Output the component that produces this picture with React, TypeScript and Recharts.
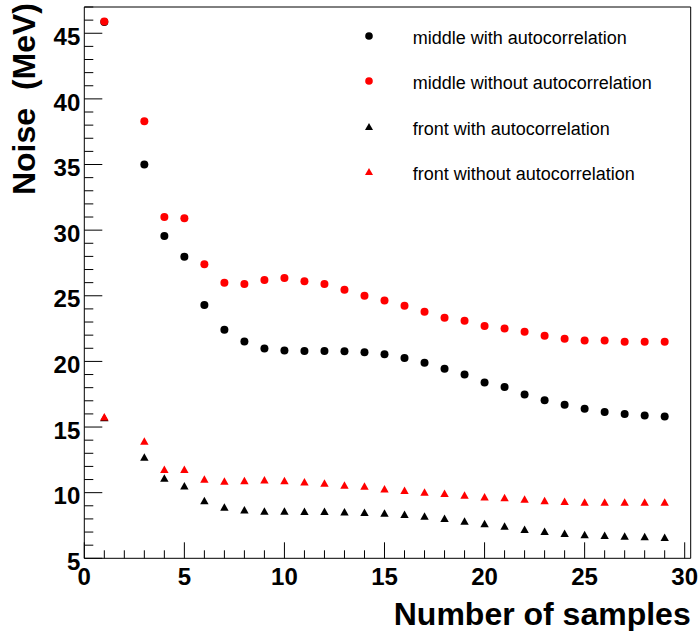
import React from 'react';
import { Legend, ReferenceArea, Scatter, ScatterChart, XAxis, YAxis } from 'recharts';

const FONT = '"Liberation Sans", Arial, Helvetica, sans-serif';

// number of samples (there is no point at 2)
const samples = [1, 3, 4, 5, 6, 7, 8, 9, 10, 11, 12, 13, 14, 15, 16, 17, 18, 19, 20, 21, 22, 23, 24, 25, 26, 27, 28, 29];

// noise in MeV
const middleWith = [45.85, 35.0, 29.56, 27.97, 24.3, 22.41, 21.52, 20.99, 20.84, 20.8, 20.8, 20.77, 20.69, 20.54, 20.26, 19.9, 19.45, 19.0, 18.4, 18.05, 17.47, 17.04, 16.69, 16.4, 16.15, 16.0, 15.87, 15.8];
const middleWithout = [45.9, 38.3, 31.0, 30.9, 27.4, 26.0, 25.9, 26.2, 26.35, 26.1, 25.9, 25.45, 25.0, 24.64, 24.24, 23.78, 23.33, 23.1, 22.7, 22.5, 22.26, 21.96, 21.73, 21.6, 21.6, 21.5, 21.5, 21.5];
const frontWith = [15.7, 12.68, 11.08, 10.5, 9.36, 8.88, 8.67, 8.57, 8.57, 8.55, 8.55, 8.52, 8.47, 8.42, 8.32, 8.19, 8.02, 7.81, 7.61, 7.43, 7.18, 7.03, 6.88, 6.77, 6.72, 6.67, 6.62, 6.57];
const frontWithout = [15.74, 13.9, 11.75, 11.75, 11.0, 10.86, 10.9, 10.95, 10.9, 10.8, 10.7, 10.55, 10.47, 10.27, 10.15, 10.02, 9.92, 9.79, 9.66, 9.59, 9.49, 9.36, 9.31, 9.26, 9.26, 9.26, 9.26, 9.26];

const xTicks = Array.from({ length: 31 }, (_, i) => i);
const yTicks = Array.from({ length: 43 }, (_, i) => i + 5);

const toPoints = (vals: number[]) => samples.map((x, i) => ({ x, y: vals[i] }));

const series = [
  { name: 'middle with autocorrelation', color: '#000000', type: 'circle', data: toPoints(middleWith) },
  { name: 'middle without autocorrelation', color: '#ff0000', type: 'circle', data: toPoints(middleWithout) },
  { name: 'front with autocorrelation', color: '#000000', type: 'triangle', data: toPoints(frontWith) },
  { name: 'front without autocorrelation', color: '#ff0000', type: 'triangle', data: toPoints(frontWithout) },
];

function Marker({ cx, cy, type, color }: any) {
  if (type === 'triangle') {
    return <polygon points={`${cx},${cy - 4.2} ${cx - 4.2},${cy + 3.3} ${cx + 4.2},${cy + 3.3}`} fill={color} />;
  }
  return <circle cx={cx} cy={cy} r={4} fill={color} />;
}

function XTick({ x, y, payload }: any) {
  const v = payload.value;
  const major = v % 5 === 0;
  return (
    <g>
      <line x1={x} y1={y} x2={x} y2={y - (major ? 16 : 8)} stroke="#000" />
      {major && (
        <text x={x} y={y + 26.7} textAnchor="middle" fontFamily={FONT} fontSize={24} fontWeight="bold" fill="#000">
          {v}
        </text>
      )}
    </g>
  );
}

function YTick({ x, y, payload }: any) {
  const v = payload.value;
  const major = v % 5 === 0;
  return (
    <g>
      <line x1={x} y1={y} x2={x + (major ? 18 : 9)} y2={y} stroke="#000" />
      {major && (
        <text x={x - 4} y={y + 11.7} textAnchor="end" fontFamily={FONT} fontSize={24} fontWeight="bold" fill="#000">
          {v}
        </text>
      )}
    </g>
  );
}

function LegendBox({ payload }: any) {
  const rows = [...(payload || [])].sort(
    (a: any, b: any) =>
      series.findIndex((s) => s.name === a.value) - series.findIndex((s) => s.name === b.value),
  );
  return (
    <div style={{ fontFamily: FONT, fontSize: 18, color: '#000' }}>
      {rows.map((p: any) => (
        <div key={p.value} style={{ display: 'flex', alignItems: 'center', height: 45.3 }}>
          <svg width={18} height={18} style={{ marginTop: -5 }}>
            {p.type === 'triangle' ? (
              <polygon points="9,5 5,12 13,12" fill={p.color} />
            ) : (
              <circle cx={9} cy={9} r={3.8} fill={p.color} />
            )}
          </svg>
          <span style={{ marginLeft: 34.7, whiteSpace: 'nowrap' }}>{p.value}</span>
        </div>
      ))}
    </div>
  );
}

export default function App() {
  return (
    <div style={{ position: 'absolute', left: 0, top: 0, width: 699, height: 631, background: '#fff' }}>
      <ScatterChart width={699} height={631} margin={{ top: 7, right: 8.3, bottom: 0, left: 0 }}>
        <XAxis
          type="number"
          dataKey="x"
          domain={[0, 30.3]}
          allowDataOverflow
          ticks={xTicks}
          interval={0}
          height={72.7}
          tickSize={0}
          tickMargin={0}
          axisLine={false}
          tickLine={false}
          tick={<XTick />}
          label={{
            content: ({ viewBox }: any) => (
              <text
                x={viewBox.x + viewBox.width}
                y={viewBox.y + 66.7}
                textAnchor="end"
                fontFamily={FONT}
                fontSize={32}
                fontWeight="bold"
                fill="#000"
              >
                Number of samples
              </text>
            ),
          }}
        />
        <YAxis
          type="number"
          dataKey="y"
          domain={[5, 47]}
          allowDataOverflow
          ticks={yTicks}
          interval={0}
          width={84.3}
          tickSize={0}
          tickMargin={0}
          axisLine={false}
          tickLine={false}
          tick={<YTick />}
          label={{
            content: ({ viewBox }: any) => (
              <text
                x={35}
                y={viewBox.y - 4}
                transform={`rotate(-90 35 ${viewBox.y - 4})`}
                textAnchor="end"
                fontFamily={FONT}
                fontSize={32}
                fontWeight="bold"
                fill="#000"
                style={{ whiteSpace: 'pre' }}
              >
                {'Noise  (MeV)'}
              </text>
            ),
          }}
        />
        <ReferenceArea x1={0} x2={30.3} y1={5} y2={47} fill="none" stroke="#000" strokeWidth={1} ifOverflow="visible" />
        {series.map((s) => (
          <Scatter
            key={s.name}
            name={s.name}
            data={s.data}
            fill={s.color}
            legendType={s.type as any}
            isAnimationActive={false}
            shape={(props: any) => <Marker cx={props.cx} cy={props.cy} type={s.type} color={s.color} />}
          />
        ))}
        <Legend
          layout="vertical"
          align="center"
          verticalAlign="middle"
          content={<LegendBox />}
          wrapperStyle={{ left: 360, top: 16, width: 330 }}
        />
      </ScatterChart>
    </div>
  );
}
